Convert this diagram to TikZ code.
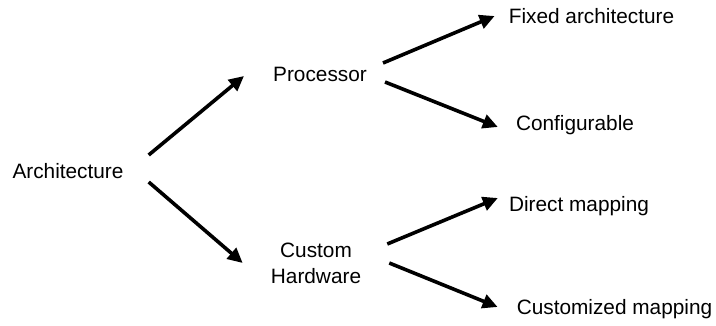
\documentclass[tikz,border=0pt]{standalone}
\usepackage{fontspec}
\setmainfont{Liberation Sans}
\usepackage{tikz}
\usetikzlibrary{arrows.meta, positioning, calc}
\tikzset{
  term/.style={inner sep=0pt, align=center,
    font=\fontsize{20.8}{26}\selectfont},
  arrow/.style={-{Triangle[length=15pt, width=14pt]}, line width=3.6pt, color=black}
}
\begin{document}
\begin{tikzpicture}[x=1pt, y=-1pt]
  \useasboundingbox (0,0) rectangle (716,325);

  % Terms
  \node[term, anchor=base] (arch) at (68,178) {Architecture};
  \node[term, anchor=base] (proc) at (320,81) {Processor};
  \node[term] (hw) at (316,263) {Custom\\Hardware};
  \node[term, anchor=base] (fixed) at (591.5,23) {Fixed architecture};
  \node[term, anchor=base] (conf) at (575,130) {Configurable};
  \node[term, anchor=base] (direct) at (579,211) {Direct mapping};
  \node[term, anchor=base] (cust) at (614.5,314) {Customized mapping};

  % Branches
  \draw[arrow] ([shift={(25,-23)}]arch.base east) -- ([shift={(-29,-5)}]proc.base west);
  \draw[arrow] ([shift={(25,4)}]arch.base east) -- ([shift={(-28,0)}]hw.west);
  \draw[arrow] ([shift={(16,-18)}]proc.base east) -- ([shift={(-14,-7)}]fixed.base west);
  \draw[arrow] ([shift={(18,1)}]proc.base east) -- ([shift={(-18,-3)}]conf.base west);
  \draw[arrow] ([shift={(26,-19)}]hw.east) -- ([shift={(-11,-13)}]direct.base west);
  \draw[arrow] ([shift={(28,0)}]hw.east) -- ([shift={(-19,-7)}]cust.base west);
\end{tikzpicture}
\end{document}
